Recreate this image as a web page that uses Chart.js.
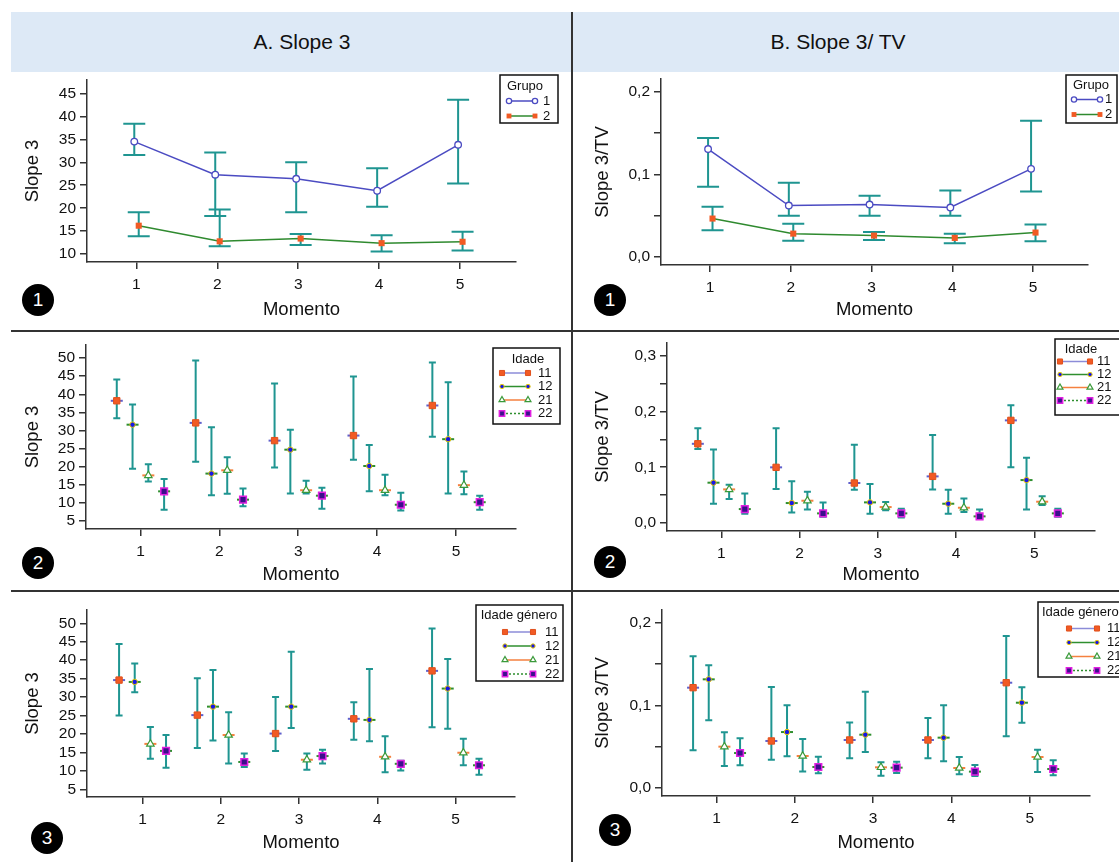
<!DOCTYPE html>
<html lang="pt">
<head>
<meta charset="utf-8">
<title>Slope 3 e Slope 3/TV por momento</title>
<script src="https://cdn.jsdelivr.net/npm/chart.js@4.4.1/dist/chart.umd.min.js"></script>
<style>
  html, body { margin: 0; padding: 0; background: #fff; }
  body { position: relative; width: 1119px; height: 862px; overflow: hidden;
         font-family: 'Liberation Sans', Arial, sans-serif; color: #111; }
  .faixa { position: absolute; left: 11px; top: 12px; width: 1108px; height: 60px; background: #dde9f6; }
  .titulo { position: absolute; top: 12px; height: 60px; line-height: 60px; font-size: 21px;
            transform: translateX(-50%); white-space: nowrap; }
  .vline { position: absolute; left: 571px; top: 12px; width: 2px; height: 850px; background: #333; }
  .hline { position: absolute; left: 11px; width: 1108px; height: 2px; background: #333; }
  .num { position: absolute; width: 32px; height: 32px; margin: -16px 0 0 -16px; border-radius: 50%;
         background: #000; color: #fff; font-size: 19px; line-height: 32px; text-align: center; }
  canvas { position: absolute; }
</style>
</head>
<body>
<div class="faixa"></div>
<div class="titulo" style="left:302px">A. Slope 3</div>
<div class="titulo" style="left:838px">B. Slope 3/ TV</div>
<div class="vline"></div>
<div class="hline" style="top:330px"></div>
<div class="hline" style="top:590px"></div>

<canvas id="a1"></canvas>
<canvas id="b1"></canvas>
<canvas id="a2"></canvas>
<canvas id="b2"></canvas>
<canvas id="a3"></canvas>
<canvas id="b3"></canvas>

<div class="num" style="left:38px;top:300px">1</div>
<div class="num" style="left:610px;top:300px">1</div>
<div class="num" style="left:38px;top:563px">2</div>
<div class="num" style="left:610px;top:562px">2</div>
<div class="num" style="left:47px;top:838px">3</div>
<div class="num" style="left:615px;top:830px">3</div>

<script>
// ---- Dados ----
const momentos = [1, 2, 3, 4, 5];
const grupos = ['1', '2'];
const idades = ['11', '12', '21', '22'];

const ticksSlopeGrupo = [10, 15, 20, 25, 30, 35, 40, 45];
const ticksSlope = [5, 10, 15, 20, 25, 30, 35, 40, 45, 50];
const ticksTV = [0, 0.05, 0.1, 0.15, 0.2];
const ticksTV2 = [0, 0.05, 0.1, 0.15, 0.2, 0.25, 0.3];

// 1A - Slope 3 por grupo
const slopeGrupoMedia = [[34.5, 27.3, 26.4, 23.8, 33.8], [16.2, 12.8, 13.4, 12.4, 12.7]];
const slopeGrupoInf   = [[31.6, 18.3, 19.1, 20.3, 25.4], [13.9, 11.7, 12.0, 10.6, 10.8]];
const slopeGrupoSup   = [[38.4, 32.1, 30.0, 28.7, 43.6], [19.1, 19.7, 14.4, 14.1, 14.9]];

// 1B - Slope 3/TV por grupo
const tvGrupoMedia = [[0.1307, 0.0621, 0.0633, 0.0597, 0.1067], [0.0463, 0.028, 0.0256, 0.0228, 0.0293]];
const tvGrupoInf   = [[0.0848, 0.0496, 0.0496, 0.0496, 0.0792], [0.0321, 0.0195, 0.0204, 0.0163, 0.0187]];
const tvGrupoSup   = [[0.144, 0.0897, 0.0739, 0.0804, 0.165], [0.0605, 0.040, 0.030, 0.028, 0.039]];

// 2A - Slope 3 por idade
const slopeIdadeMedia = [
  [38.2, 32.1, 27.2, 28.6, 36.9], [31.6, 18.1, 24.7, 20.2, 27.6],
  [17.6, 19.0, 13.5, 13.5, 14.9], [13.2, 10.9, 12.0, 9.5, 10.2]];
const slopeIdadeInf = [
  [33.4, 21.4, 19.8, 21.9, 28.3], [19.4, 12.1, 12.6, 13.2, 12.6],
  [15.9, 12.5, 12.6, 12.1, 12.4], [8.1, 9.1, 8.4, 7.9, 8.1]];
const slopeIdadeSup = [
  [44.1, 49.3, 43.0, 44.9, 48.8], [37.2, 30.9, 30.2, 26.0, 43.3],
  [20.7, 22.6, 16.1, 17.8, 18.7], [16.6, 14.0, 14.2, 12.8, 12.0]];

// 2B - Slope 3/TV por idade
const tvIdadeMedia = [
  [0.142, 0.0998, 0.0717, 0.0836, 0.184], [0.0723, 0.0358, 0.037, 0.0346, 0.077],
  [0.0603, 0.040, 0.0286, 0.0274, 0.0382], [0.025, 0.0173, 0.0173, 0.0119, 0.0173]];
const tvIdadeInf = [
  [0.1326, 0.061, 0.0597, 0.0603, 0.100], [0.0346, 0.019, 0.0167, 0.0167, 0.0244],
  [0.043, 0.0244, 0.0227, 0.0197, 0.0322], [0.0167, 0.0113, 0.0101, 0.0071, 0.0113]];
const tvIdadeSup = [
  [0.170, 0.170, 0.1404, 0.158, 0.211], [0.132, 0.0747, 0.0699, 0.0597, 0.117],
  [0.0687, 0.0561, 0.0376, 0.044, 0.0478], [0.0531, 0.037, 0.0256, 0.0244, 0.0256]];

// 3A - Slope 3 por idade e género
const slopeGeneroMedia = [
  [34.6, 25.1, 20.1, 24.1, 37.1], [34.1, 27.4, 27.4, 23.8, 32.3],
  [17.3, 19.7, 13.0, 13.8, 14.9], [15.4, 12.4, 14.0, 11.9, 11.5]];
const slopeGeneroInf = [
  [25.0, 16.2, 15.4, 18.4, 21.8], [31.3, 18.2, 21.6, 18.0, 21.4],
  [13.3, 12.0, 10.3, 9.6, 11.5], [10.8, 11.0, 12.0, 10.1, 8.9]];
const slopeGeneroSup = [
  [44.4, 35.1, 30.0, 28.6, 48.6], [39.1, 37.3, 42.3, 37.6, 40.3],
  [21.9, 25.9, 14.7, 19.4, 18.7], [19.7, 14.7, 15.7, 12.7, 13.3]];

// 3B - Slope 3/TV por idade e género
const tvGeneroMedia = [
  [0.1214, 0.0569, 0.0581, 0.0581, 0.1274], [0.1315, 0.0677, 0.0645, 0.0609, 0.1032],
  [0.05, 0.0387, 0.025, 0.0242, 0.0375], [0.0423, 0.0254, 0.0246, 0.0198, 0.023]];
const tvGeneroInf = [
  [0.0456, 0.0343, 0.0359, 0.0359, 0.0625], [0.0819, 0.0383, 0.0435, 0.0323, 0.079],
  [0.0266, 0.0198, 0.0149, 0.0165, 0.0194], [0.0274, 0.0177, 0.0181, 0.0145, 0.0153]];
const tvGeneroSup = [
  [0.1593, 0.1222, 0.0794, 0.0847, 0.1839], [0.1484, 0.1, 0.1165, 0.1, 0.1218],
  [0.0673, 0.0593, 0.031, 0.0375, 0.0464], [0.0601, 0.0379, 0.0319, 0.0278, 0.0335]];

// ---- Estilos ----
const FONTE = "'Liberation Sans', Arial, sans-serif";
const corErro = '#1f9591';
const corEixo = '#333';

const estiloGrupo = [
  { linha: '#4b4bc2', ponto: 'circle', raio: 3.3, fundo: '#fff', borda: '#4b4bc2', bw: 1.3, dx: -0.025 },
  { linha: '#2f8a2f', ponto: 'rect', raio: 4.3, fundo: '#f15a24', borda: '#f15a24', bw: 0, dx: 0.03 }
];
const estiloIdade = [
  { linha: '#6060cc', legLinha: '#8c8cd8', ponto: 'rect', raio: 4.5, fundo: '#f15a24', borda: '#e0501c', bw: 1, dx: -0.3 },
  { linha: '#2f8f2f', ponto: 'circle', raio: 2.7, fundo: '#1717e6', borda: '#e8cc00', bw: 1, dx: -0.1 },
  { linha: '#f5813f', ponto: 'triangle', raio: 4.3, fundo: '#fff', borda: '#3a9a3a', bw: 1.2, dx: 0.1 },
  { linha: '#2f8f2f', ponto: 'rect', raio: 4.7, fundo: '#3b0f8c', borda: '#e020e0', bw: 1.5, dx: 0.3, tracejado: [2, 2] }
];

// layout de cada painel (coordenadas da página)
const paineis = [
  { id: 'a1', cx: 12, cy: 60, cw: 559, ch: 270, l: 87, r: 516, t: 80, b: 262,
    xmin: 0.391, xmax: 5.69, ymin: 8.3, ymax: 47.9, ticks: ticksSlopeGrupo, decimal: false,
    titulo: 'Slope 3', padY: 9.9, padX: 8.9, tipo: 'grupo', capa: 11,
    media: slopeGrupoMedia, inf: slopeGrupoInf, sup: slopeGrupoSup,
    leg: { l: 500, t: 75, r: 558, b: 123, titulo: 'Grupo', tx: 525, ty: 86, alinhar: 'center',
           linhas: [101, 116], x1: 509, x2: 535, lx: 543 } },
  { id: 'b1', cx: 573, cy: 59, cw: 546, ch: 271, l: 661, r: 1088, t: 79, b: 265,
    xmin: 0.392, xmax: 5.68, ymin: -0.0101, ymax: 0.2158, ticks: ticksTV, decimal: true,
    titulo: 'Slope 3/TV', padY: 19.2, padX: 8.9, tipo: 'grupo', capa: 11,
    media: tvGrupoMedia, inf: tvGrupoInf, sup: tvGrupoSup,
    leg: { l: 1066, t: 75, r: 1117, b: 123, titulo: 'Grupo', tx: 1091, ty: 85, alinhar: 'center',
           linhas: [99.5, 114.5], x1: 1074, x2: 1100, lx: 1105 } },
  { id: 'a2', cx: 12, cy: 325, cw: 559, ch: 265, l: 86, r: 516, t: 345, b: 529,
    xmin: 0.31, xmax: 5.76, ymin: 2.8, ymax: 53.6, ticks: ticksSlope, decimal: false,
    titulo: 'Slope 3', padY: 9.9, padX: 3.9, tipo: 'idade', capa: 3.5,
    media: slopeIdadeMedia, inf: slopeIdadeInf, sup: slopeIdadeSup,
    leg: { l: 493, t: 348, r: 560, b: 424, titulo: 'Idade', tx: 528, ty: 359, alinhar: 'center',
           linhas: [373, 386.5, 400, 413.5], x1: 502, x2: 528, lx: 538 } },
  { id: 'b2', cx: 573, cy: 323, cw: 546, ch: 267, l: 667, r: 1095, t: 343, b: 531,
    xmin: 0.306, xmax: 5.775, ymin: -0.0143, ymax: 0.3227, ticks: ticksTV2, decimal: true,
    titulo: 'Slope 3/TV', padY: 19.2, padX: 3.9, tipo: 'idade', capa: 3.5,
    media: tvIdadeMedia, inf: tvIdadeInf, sup: tvIdadeSup,
    leg: { l: 1055, t: 339, r: 1125, b: 415, titulo: 'Idade', tx: 1081, ty: 349, alinhar: 'center',
           linhas: [361.5, 374.5, 387.5, 400.5], x1: 1060, x2: 1090, lx: 1097 } },
  { id: 'a3', cx: 12, cy: 590, cw: 559, ch: 272, l: 87, r: 515, t: 610, b: 797,
    xmin: 0.29, xmax: 5.76, ymin: 2.9, ymax: 53.6, ticks: ticksSlope, decimal: false,
    titulo: 'Slope 3', padY: 9.9, padX: 8.2, tipo: 'idade', capa: 3.5,
    media: slopeGeneroMedia, inf: slopeGeneroInf, sup: slopeGeneroSup,
    leg: { l: 476, t: 605, r: 563, b: 681, titulo: 'Idade género', tx: 519, ty: 615, alinhar: 'center',
           linhas: [632, 646, 660, 674], x1: 505, x2: 533, lx: 545 } },
  { id: 'b3', cx: 573, cy: 590, cw: 546, ch: 272, l: 662, r: 1090, t: 610, b: 796,
    xmin: 0.303, xmax: 5.77, ymin: -0.0097, ymax: 0.2154, ticks: ticksTV, decimal: true,
    titulo: 'Slope 3/TV', padY: 19.2, padX: 8.2, tipo: 'idade', capa: 3.5,
    media: tvGeneroMedia, inf: tvGeneroInf, sup: tvGeneroSup,
    leg: { l: 1038, t: 602, r: 1125, b: 677, titulo: 'Idade género', tx: 1042, ty: 612, alinhar: 'left',
           linhas: [628.5, 642.5, 656.5, 670.5], x1: 1069, x2: 1097, lx: 1107 } }
];

// desenha um marcador simples (para a legenda)
function marcador(ctx, e, x, y, r) {
  ctx.beginPath();
  if (e.ponto === 'circle') {
    ctx.arc(x, y, r, 0, Math.PI * 2);
  } else if (e.ponto === 'rect') {
    const s = r * Math.SQRT1_2;
    ctx.rect(x - s, y - s, 2 * s, 2 * s);
  } else {
    ctx.moveTo(x, y - r);
    ctx.lineTo(x + r * 0.866, y + r * 0.5);
    ctx.lineTo(x - r * 0.866, y + r * 0.5);
    ctx.closePath();
  }
  ctx.fillStyle = e.fundo;
  ctx.fill();
  if (e.bw > 0) {
    ctx.lineWidth = e.bw;
    ctx.strokeStyle = e.borda;
    ctx.stroke();
  }
}

// barras de erro + traço horizontal de cada média
const pluginErro = {
  id: 'barrasErro',
  beforeDatasetsDraw(chart, args, opts) {
    const ctx = chart.ctx;
    const ys = chart.scales.y;
    ctx.save();
    chart.data.datasets.forEach((ds, i) => {
      const pts = chart.getDatasetMeta(i).data;
      ctx.strokeStyle = corErro;
      ctx.lineWidth = 2;
      pts.forEach((pt, j) => {
        const y1 = ys.getPixelForValue(ds.inf[j]);
        const y2 = ys.getPixelForValue(ds.sup[j]);
        ctx.beginPath();
        ctx.moveTo(pt.x, y1); ctx.lineTo(pt.x, y2);
        ctx.moveTo(pt.x - opts.capa, y1); ctx.lineTo(pt.x + opts.capa, y1);
        ctx.moveTo(pt.x - opts.capa, y2); ctx.lineTo(pt.x + opts.capa, y2);
        ctx.stroke();
      });
    });
    if (opts.traco) {
      chart.data.datasets.forEach((ds, i) => {
        ctx.strokeStyle = ds.borderColor;
        ctx.lineWidth = 2;
        chart.getDatasetMeta(i).data.forEach(pt => {
          ctx.beginPath();
          ctx.moveTo(pt.x - 6, pt.y); ctx.lineTo(pt.x + 6, pt.y);
          ctx.stroke();
        });
      });
    }
    ctx.restore();
  }
};

// caixa de legenda no canto superior direito
const pluginLegenda = {
  id: 'legendaPainel',
  afterDraw(chart, args, o) {
    const L = o.leg, ox = o.cx, oy = o.cy;
    const ctx = chart.ctx;
    ctx.save();
    ctx.fillStyle = '#fff';
    ctx.fillRect(L.l - ox, L.t - oy, L.r - L.l, L.b - L.t);
    ctx.strokeStyle = '#111';
    ctx.lineWidth = 1.5;
    ctx.strokeRect(L.l - ox, L.t - oy, L.r - L.l, L.b - L.t);
    ctx.fillStyle = '#111';
    ctx.font = '13px ' + FONTE;
    ctx.textBaseline = 'middle';
    ctx.textAlign = L.alinhar;
    ctx.fillText(L.titulo, L.tx - ox, L.ty - oy);
    o.estilos.forEach((e, i) => {
      const y = L.linhas[i] - oy;
      ctx.strokeStyle = e.legLinha || e.linha;
      ctx.lineWidth = 1.5;
      ctx.setLineDash(e.tracejado || []);
      ctx.beginPath();
      ctx.moveTo(L.x1 - ox, y); ctx.lineTo(L.x2 - ox, y);
      ctx.stroke();
      ctx.setLineDash([]);
      marcador(ctx, e, L.x1 - ox, y, e.raio * 0.8);
      marcador(ctx, e, L.x2 - ox, y, e.raio * 0.8);
      ctx.fillStyle = '#111';
      ctx.textAlign = 'left';
      ctx.font = '13px ' + FONTE;
      ctx.fillText(o.nomes[i], L.lx - ox, y);
    });
    ctx.restore();
  }
};

function montarPainel(p) {
  const cv = document.getElementById(p.id);
  cv.width = p.cw;
  cv.height = p.ch;
  cv.style.left = p.cx + 'px';
  cv.style.top = p.cy + 'px';

  const estilos = p.tipo === 'grupo' ? estiloGrupo : estiloIdade;
  const nomes = p.tipo === 'grupo' ? grupos : idades;

  const datasets = nomes.map((nome, i) => {
    const e = estilos[i];
    return {
      label: nome,
      data: momentos.map((m, j) => ({ x: m + e.dx, y: p.media[i][j] })),
      inf: p.inf[i],
      sup: p.sup[i],
      showLine: p.tipo === 'grupo',
      borderColor: e.linha,
      borderWidth: 1.5,
      tension: 0,
      pointStyle: e.ponto,
      pointRadius: e.raio,
      pointHoverRadius: e.raio,
      pointBackgroundColor: e.fundo,
      pointBorderColor: e.borda,
      pointBorderWidth: e.bw
    };
  });

  const eixo = {
    grid: { drawOnChartArea: false, drawTicks: true, tickLength: 7, color: corEixo, lineWidth: 1.5 },
    border: { display: true, color: corEixo, width: 1.5 }
  };

  new Chart(cv, {
    type: 'scatter',
    data: { datasets },
    options: {
      responsive: false,
      animation: false,
      events: [],
      layout: { padding: { left: 0, bottom: 0, top: p.t - p.cy, right: p.cx + p.cw - p.r } },
      plugins: {
        legend: { display: false },
        tooltip: { enabled: false },
        barrasErro: { capa: p.capa, traco: p.tipo !== 'grupo' },
        legendaPainel: { leg: p.leg, cx: p.cx, cy: p.cy, estilos, nomes }
      },
      scales: {
        x: {
          ...eixo,
          type: 'linear',
          bounds: 'data',
          min: p.xmin,
          max: p.xmax,
          afterBuildTicks: s => { s.ticks = momentos.map(v => ({ value: v })); },
          afterFit: s => { s.height = p.cy + p.ch - p.b; },
          ticks: { autoSkip: false, maxRotation: 0, padding: 6.5, color: '#111',
                   font: { family: FONTE, size: 15.5 }, callback: v => String(v) },
          title: { display: true, text: 'Momento', color: '#111',
                   font: { family: FONTE, size: 18.5 }, padding: { top: 0, bottom: p.padX } }
        },
        y: {
          ...eixo,
          type: 'linear',
          bounds: 'data',
          min: p.ymin,
          max: p.ymax,
          afterBuildTicks: s => { s.ticks = p.ticks.map(v => ({ value: v })); },
          afterFit: s => { s.width = p.l - p.cx; },
          ticks: {
            autoSkip: false, padding: 4, color: '#111',
            font: { family: FONTE, size: 15.5 },
            callback: v => {
              if (!p.decimal) return String(v);
              return Math.abs(v * 10 - Math.round(v * 10)) < 1e-6 ? v.toFixed(1).replace('.', ',') : '';
            }
          },
          title: { display: true, text: p.titulo, color: '#111',
                   font: { family: FONTE, size: 18.5 }, padding: { top: p.padY, bottom: 0 } }
        }
      }
    },
    plugins: [pluginErro, pluginLegenda]
  });
}

paineis.forEach(montarPainel);
</script>
</body>
</html>
